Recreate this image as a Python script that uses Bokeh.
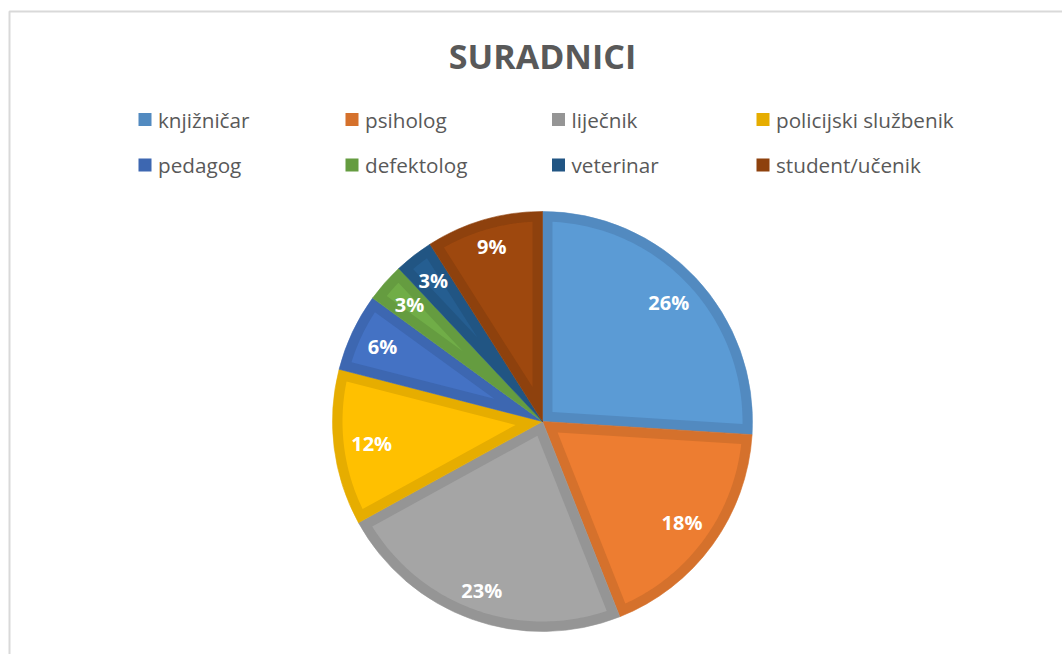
import numpy as np
from bokeh.plotting import figure
from bokeh.models import Range1d
from bokeh.core.properties import value
from bokeh.embed import file_html
from bokeh.resources import INLINE

title = "SURADNICI"
categories = ["knjižničar", "psiholog", "liječnik", "policijski službenik",
              "pedagog", "defektolog", "veterinar", "student/učenik"]
values = [26, 18, 23, 12, 6, 3, 3, 9]
labels = ["26%", "18%", "23%", "12%", "6%", "3%", "3%", "9%"]

fill_colors = ["#5B9BD5", "#ED7D31", "#A5A5A5", "#FFC000",
               "#4472C4", "#70AD47", "#255E91", "#9E480E"]
edge_colors = ["#528AC0", "#D5712C", "#959595", "#E6AD00",
               "#3D67B1", "#659C40", "#215583", "#8E410D"]

W, H = 1062, 654
# data coordinates = page pixels, with y pointing up
X0, X1 = 0, W
Y0, Y1 = 654 - H, 654

p = figure(width=W, height=H, x_range=Range1d(X0, X1), y_range=Range1d(Y0, Y1),
           output_backend="svg", toolbar_location=None,
           x_axis_type=None, y_axis_type=None, min_border=0)
p.outline_line_color = None
p.xgrid.visible = False
p.ygrid.visible = False
p.background_fill_color = "white"
p.border_fill_color = "white"

# chart frame (light gray)
p.line(x=[9, 9, 1100], y=[-50, 654 - 11, 654 - 11], line_color="#D9D9D9", line_width=2)

# title
p.text(x=[542], y=[654 - 55], text=[title], text_font=value("Open Sans"),
       text_font_style="bold", text_font_size="34px", text_color="#595959",
       text_align="center", text_baseline="middle")

# legend
sw_left = [138, 345, 551.5, 756]
row_y = [654 - 119, 654 - 164.5]
lx, ly, tx = [], [], []
for i in range(len(categories)):
    r, c = divmod(i, 4)
    lx.append(sw_left[c] + 6.5)
    ly.append(row_y[r])
    tx.append(sw_left[c] + 19.5)
p.rect(x=lx, y=ly, width=13, height=13, fill_color=edge_colors, line_color=None)
p.text(x=tx, y=ly, text=categories, text_font=value("Open Sans"),
       text_font_size="20.7px", text_color="#595959",
       text_align="left", text_baseline="middle")

# pie
cx, cy, R, d = 542, 654 - 421, 210, 10
vals = np.array(values, dtype=float)
frac = vals / vals.sum()
cum = np.concatenate([[0], np.cumsum(frac)])
starts = np.pi / 2 - 2 * np.pi * cum[:-1]
ends = np.pi / 2 - 2 * np.pi * cum[1:]

p.wedge(x=cx, y=cy, radius=R, start_angle=starts, end_angle=ends,
        direction="clock", fill_color=edge_colors, line_color=edge_colors,
        line_width=0.6)

xs, ys = [], []
for t1, t2 in zip(starts, ends):
    half = (t1 - t2) / 2
    mid = (t1 + t2) / 2
    rv = d / np.sin(half)
    da = np.arcsin(d / (R - d))
    arc = np.linspace(t1 - da, t2 + da, 80)
    px = [cx + rv * np.cos(mid)] + list(cx + (R - d) * np.cos(arc))
    py = [cy + rv * np.sin(mid)] + list(cy + (R - d) * np.sin(arc))
    xs.append(px)
    ys.append(py)
p.patches(xs=xs, ys=ys, fill_color=fill_colors, line_color=None)

# data labels: placed so their text box sits a fixed distance inside the rim
fs = 20
mids = (starts + ends) / 2
ux, uy = np.cos(mids), np.sin(mids)
half_w = np.array([((len(t) - 1) * 0.572 + 0.86) * fs / 2 for t in labels])
half_h = 7.5
ext = half_w * np.abs(ux) + half_h * np.abs(uy)
lr = (R - 17) - ext
p.text(x=cx + lr * ux, y=cy + lr * uy, text=labels,
       text_font=value("Open Sans"), text_font_style="bold", text_font_size=f"{fs}px",
       text_color="white", text_align="center", text_baseline="middle")

open("out.html", "w").write(file_html(p, INLINE))
